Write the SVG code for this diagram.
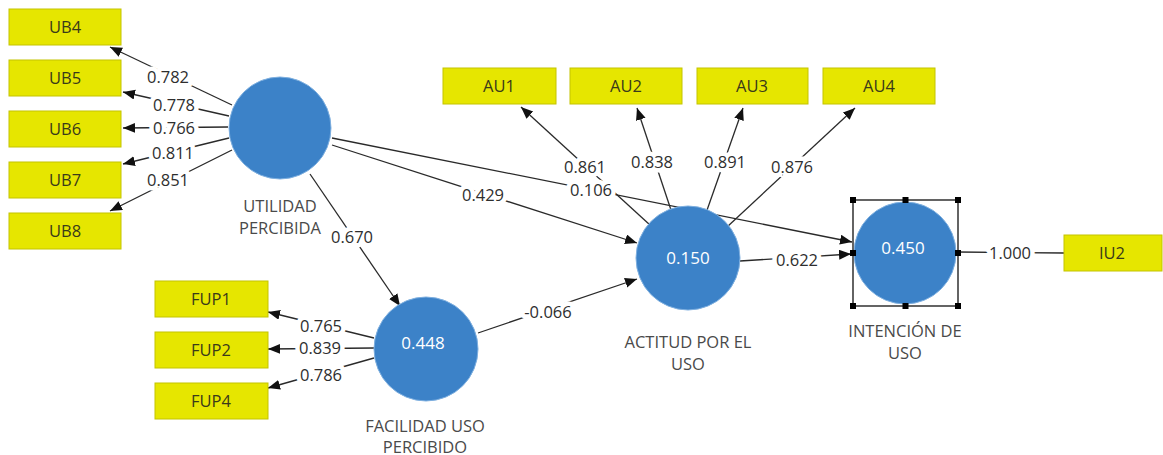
<svg xmlns="http://www.w3.org/2000/svg" width="1163" height="455" viewBox="0 0 1163 455">
  <defs>
    <marker id="arrow" markerUnits="userSpaceOnUse" markerWidth="13" markerHeight="11" refX="12" refY="5" orient="auto">
      <path d="M0,0 L12,5 L0,10 Z" fill="#111"/>
    </marker>
    <style>
      .ind rect { fill: #E6E600; stroke: #C4C400; stroke-width: 1; }
      .ind text { font-family: "Open Sans", "Noto Sans", sans-serif; font-size: 16.5px; fill: #3a3a1a; text-anchor: middle; }
      .lv circle { fill: #3C82C8; stroke: #7FB0E0; stroke-width: 1; }
      .lv .r2 { font-family: "Open Sans", "Noto Sans", sans-serif; font-size: 17px; fill: #ffffff; text-anchor: middle; }
      .lv .name { font-family: "Open Sans", "Noto Sans", sans-serif; font-size: 16.5px; fill: #4a4a4a; text-anchor: middle; }
      .edges line { stroke: #2a2a2a; stroke-width: 1.3; marker-end: url(#arrow); }
      .edges line.plain { marker-end: none; }
      .edges text { font-family: "Open Sans", "Noto Sans", sans-serif; font-size: 16.5px; fill: #2e2e2e; text-anchor: middle;
                    stroke: #ffffff; stroke-width: 9; paint-order: stroke; stroke-linejoin: round; }
      .sel rect.frame { fill: none; stroke: #111; stroke-width: 1.3; }
      .sel rect.h { fill: #000; }
    </style>
  </defs>

  <rect width="1163" height="455" fill="#ffffff"/>

  <!-- connectors and path coefficients -->
  <g id="connectors" class="edges">
    <!-- UTILIDAD PERCIBIDA outer loadings -->
    <line x1="232" y1="105" x2="110" y2="47"/>
    <line x1="229" y1="116" x2="123" y2="92"/>
    <line x1="228" y1="127" x2="123" y2="128"/>
    <line x1="229" y1="138" x2="123" y2="164"/>
    <line x1="232" y1="150" x2="110" y2="211"/>
    <!-- FACILIDAD USO PERCIBIDO outer loadings -->
    <line x1="374" y1="338" x2="268" y2="312"/>
    <line x1="374" y1="348" x2="268" y2="349"/>
    <line x1="374" y1="358" x2="268" y2="388"/>
    <!-- ACTITUD POR EL USO outer loadings -->
    <line x1="650" y1="225" x2="521" y2="107"/>
    <line x1="672" y1="213" x2="637" y2="108"/>
    <line x1="706" y1="213" x2="743" y2="108"/>
    <line x1="727" y1="227" x2="855" y2="108"/>
    <!-- structural paths -->
    <line x1="310" y1="174" x2="400" y2="306"/>
    <line x1="332" y1="145" x2="637" y2="243"/>
    <line x1="332" y1="138" x2="852" y2="242"/>
    <line x1="478" y1="333" x2="637" y2="279"/>
    <line x1="740" y1="261" x2="851" y2="254"/>
    <line class="plain" x1="958" y1="252" x2="1064" y2="253"/>

    <text x="168" y="83">0.782</text>
    <text x="174" y="111">0.778</text>
    <text x="174" y="134">0.766</text>
    <text x="173" y="159">0.811</text>
    <text x="168" y="186">0.851</text>

    <text x="321" y="332">0.765</text>
    <text x="320" y="354">0.839</text>
    <text x="321" y="381">0.786</text>

    <text x="585" y="173">0.861</text>
    <text x="652" y="168">0.838</text>
    <text x="725" y="168">0.891</text>
    <text x="792" y="173">0.876</text>

    <text x="352" y="243">0.670</text>
    <text x="483" y="201">0.429</text>
    <text x="591" y="196">0.106</text>
    <text x="548" y="318">-0.066</text>
    <text x="797" y="266">0.622</text>
    <text x="1010" y="259">1.000</text>
  </g>

  <!-- indicators -->
  <g id="UB4" class="ind"><rect x="9" y="9" width="112" height="36"/><text x="65" y="33">UB4</text></g>
  <g id="UB5" class="ind"><rect x="9" y="60" width="112" height="36"/><text x="65" y="84">UB5</text></g>
  <g id="UB6" class="ind"><rect x="9" y="111" width="112" height="36"/><text x="65" y="135">UB6</text></g>
  <g id="UB7" class="ind"><rect x="9" y="162" width="112" height="36"/><text x="65" y="186">UB7</text></g>
  <g id="UB8" class="ind"><rect x="9" y="213" width="112" height="36"/><text x="65" y="237">UB8</text></g>

  <g id="FUP1" class="ind"><rect x="155" y="281" width="113" height="36"/><text x="211" y="305">FUP1</text></g>
  <g id="FUP2" class="ind"><rect x="155" y="332" width="113" height="36"/><text x="211" y="356">FUP2</text></g>
  <g id="FUP4" class="ind"><rect x="155" y="383" width="113" height="36"/><text x="211" y="407">FUP4</text></g>

  <g id="AU1" class="ind"><rect x="443" y="68" width="113" height="36"/><text x="499" y="92">AU1</text></g>
  <g id="AU2" class="ind"><rect x="570" y="68" width="112" height="36"/><text x="626" y="92">AU2</text></g>
  <g id="AU3" class="ind"><rect x="697" y="68" width="111" height="36"/><text x="752" y="92">AU3</text></g>
  <g id="AU4" class="ind"><rect x="823" y="68" width="112" height="36"/><text x="879" y="92">AU4</text></g>

  <g id="IU2" class="ind"><rect x="1064" y="235" width="98" height="36"/><text x="1112" y="259">IU2</text></g>

  <!-- latent variables -->
  <g id="UP" class="lv">
    <circle cx="280" cy="128" r="51"/>
    <text class="name" x="280" y="212">UTILIDAD</text>
    <text class="name" x="280" y="234">PERCIBIDA</text>
  </g>

  <g id="FUP" class="lv">
    <circle cx="426" cy="349" r="52"/>
    <text class="r2" x="423" y="349">0.448</text>
    <text class="name" x="425" y="432">FACILIDAD USO</text>
    <text class="name" x="425" y="453">PERCIBIDO</text>
  </g>

  <g id="ACT" class="lv">
    <circle cx="688" cy="258" r="52"/>
    <text class="r2" x="688" y="264">0.150</text>
    <text class="name" x="688" y="348">ACTITUD POR EL</text>
    <text class="name" x="688" y="370">USO</text>
  </g>

  <g id="INT" class="lv">
    <circle cx="905" cy="253" r="51"/>
    <text class="r2" x="903" y="254">0.450</text>
    <text class="name" x="905" y="337">INTENCIÓN DE</text>
    <text class="name" x="905" y="359">USO</text>
    <g class="sel">
      <rect class="frame" x="853" y="200" width="105" height="106"/>
      <rect class="h" x="850" y="197" width="6" height="6"/>
      <rect class="h" x="902.5" y="197" width="6" height="6"/>
      <rect class="h" x="955" y="197" width="6" height="6"/>
      <rect class="h" x="850" y="250" width="6" height="6"/>
      <rect class="h" x="955" y="250" width="6" height="6"/>
      <rect class="h" x="850" y="303" width="6" height="6"/>
      <rect class="h" x="902.5" y="303" width="6" height="6"/>
      <rect class="h" x="955" y="303" width="6" height="6"/>
    </g>
  </g>
</svg>
